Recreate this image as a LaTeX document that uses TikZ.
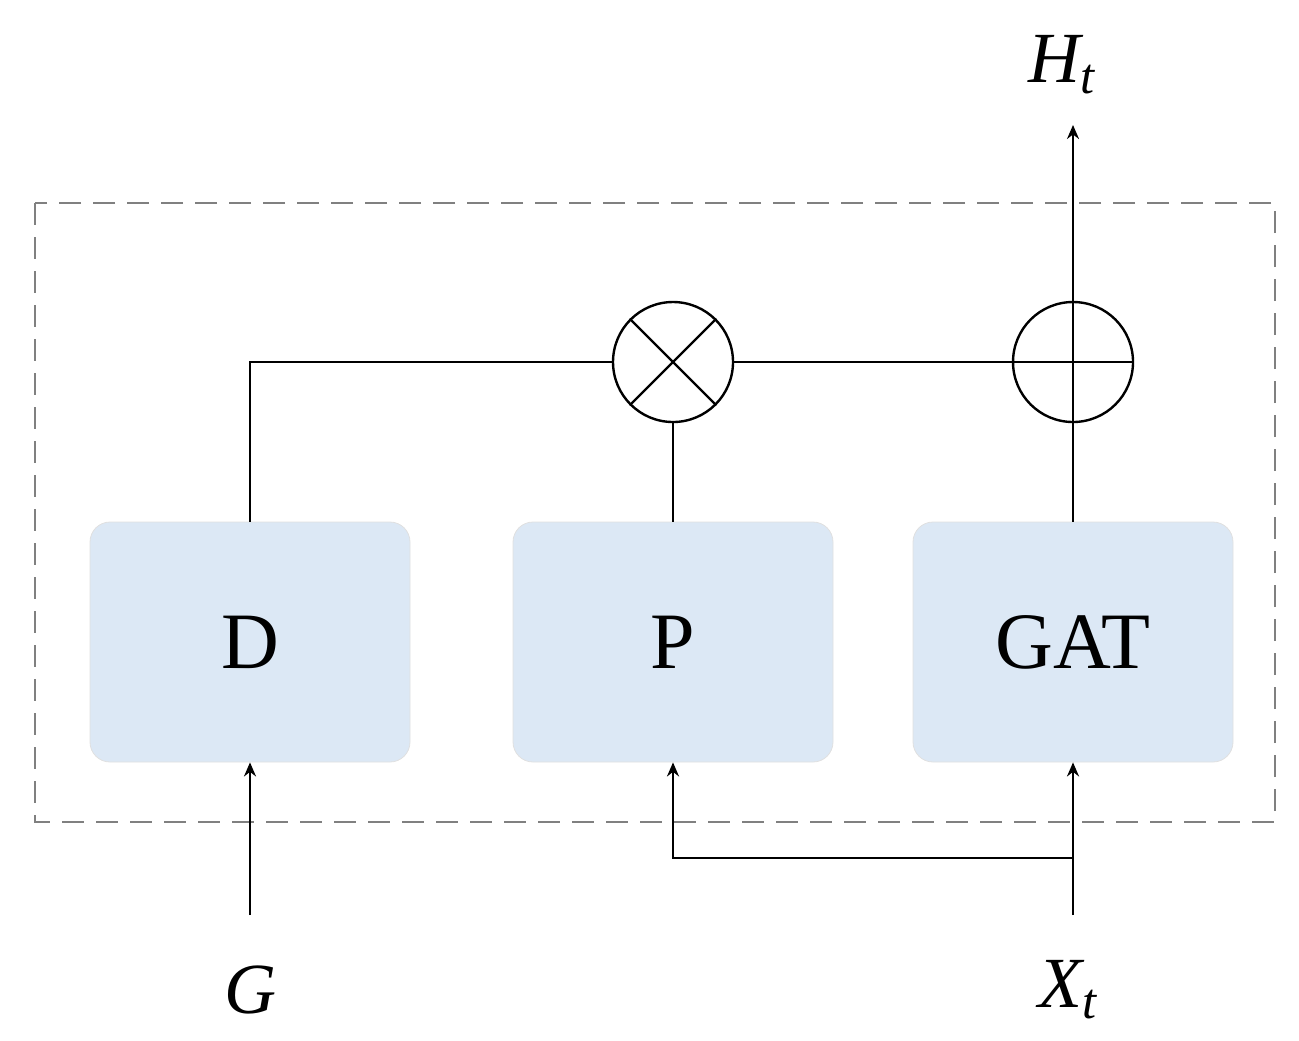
\documentclass[tikz,border=0pt]{standalone}
\usepackage{fontspec}
\setmainfont{Liberation Serif}
\usetikzlibrary{arrows.meta}
\begin{document}
\begin{tikzpicture}[x=0.5pt,y=-0.5pt,
  box/.style={draw=black!12,fill={rgb,255:red,220;green,232;blue,245},rounded corners=10pt,minimum width=160pt,minimum height=120pt,font=\fontsize{40}{46}\selectfont},
  op/.style={draw,circle,line width=1.2pt,minimum size=60pt,inner sep=0pt},
  ln/.style={line width=1.2pt},
  arr/.style={ln,-{Stealth[length=7pt,width=6pt]}},
  lab/.style={font=\fontsize{36}{42}\selectfont\itshape}]
\useasboundingbox (0,0) rectangle (1299,1040);
\draw[gray,line width=1.3pt,dash pattern=on 11pt off 6pt] (35,203) rectangle (1275,822);
\node[box] (D) at (250,642) {D};
\node[box] (P) at (673,642) {P};
\node[box] (GAT) at (1073,642) {GAT};
\node[op] (mul) at (673,362) {};
\node[op] (add) at (1073,362) {};
\draw[ln] (mul.north west) -- (mul.south east) (mul.north east) -- (mul.south west);
\draw[ln] (add.north) -- (add.south) (add.west) -- (add.east);
\draw[ln] (D.north) |- (mul.west);
\draw[ln] (mul.east) -- (add.west);
\draw[ln] (P.north) -- (mul.south);
\draw[ln] (GAT.north) -- (add.south);
\coordinate (top) at (1073,125);
\draw[arr] (add.north) -- (top);
\node[lab] (H) at (1062,65) {H\textsubscript{t}};
\node[lab] (G) at (250,990) {G};
\node[lab] (X) at (1068,990) {X\textsubscript{t}};
\coordinate (gs) at (250,915);
\coordinate (xs) at (1073,915);
\coordinate (br) at (1073,858);
\draw[arr] (gs) -- (D.south);
\draw[arr] (xs) -- (GAT.south);
\draw[arr] (br) -| (P.south);
\end{tikzpicture}
\end{document}
